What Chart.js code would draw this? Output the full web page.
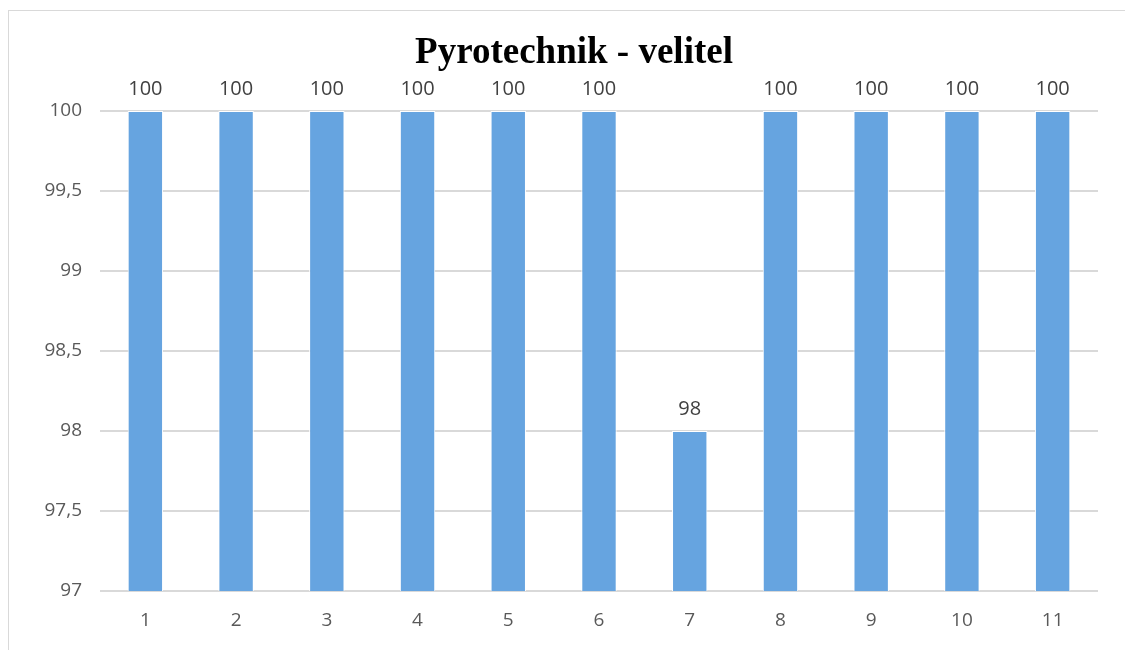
<!DOCTYPE html>
<html>
<head>
<meta charset="utf-8">
<script src="https://cdn.jsdelivr.net/npm/chart.js@4"></script>
<style>
  body { margin: 0; background: #fff; }
  .frame {
    position: absolute; left: 8px; top: 10px; width: 1125px; height: 650px;
    border: 1px solid #d9d9d9; box-sizing: border-box;
  }
  .wrap { position: absolute; left: 0; top: 0; width: 1125px; height: 650px; }
</style>
</head>
<body>
<div class="frame"></div>
<div class="wrap"><canvas id="pyroChart" width="1125" height="650"></canvas></div>
<script>
const categories = ["1", "2", "3", "4", "5", "6", "7", "8", "9", "10", "11"];
const values = [100, 100, 100, 100, 100, 100, 98, 100, 100, 100, 100];
const yMin = 97;
const yMax = 100;
const yStep = 0.5;
const titleText = "Pyrotechnik - velitel";

const fmt = (v) => String(v).replace(".", ",");

// labels above each bar + title (drawn here so it can sit off-centre like the original)
const barLabels = {
  id: "barLabels",
  afterDatasetsDraw(chart) {
    const ctx = chart.ctx;
    const meta = chart.getDatasetMeta(0);
    ctx.save();
    ctx.font = "20px 'Open Sans'";
    ctx.fillStyle = "#404040";
    ctx.textAlign = "center";
    ctx.textBaseline = "middle";
    meta.data.forEach((bar, i) => {
      ctx.fillText(fmt(values[i]), bar.x, bar.y - 22);
    });

    ctx.font = "bold 37px 'Liberation Serif'";
    ctx.fillStyle = "#000";
    ctx.fillText(titleText, 574, 53);
    ctx.restore();
  },
};

const ctx = document.getElementById("pyroChart");

const myChart = new Chart(ctx, {
  type: "bar",
  data: {
    labels: categories,
    datasets: [
      {
        data: values,
        backgroundColor: "#66a4e0",
        borderColor: "#ffffff",
        borderWidth: 1,
        barPercentage: 1,
        categoryPercentage: 0.39,
      },
    ],
  },
  options: {
    responsive: false,
    animation: false,
    layout: {
      padding: { left: 0, right: 27, top: 111, bottom: 0 },
    },
    plugins: {
      legend: { display: false },
      tooltip: { enabled: false },
      title: { display: false },
    },
    scales: {
      x: {
        grid: { display: false, drawTicks: false },
        border: { display: false },
        ticks: {
          color: "#595959",
          font: { family: "'Open Sans'", size: 19 },
          padding: 18,
        },
        afterFit(scale) {
          scale.height = 59;
        },
      },
      y: {
        min: yMin,
        max: yMax,
        grid: { color: "#d9d9d9", lineWidth: 2, drawTicks: false },
        border: { display: false },
        ticks: {
          stepSize: yStep,
          color: "#595959",
          font: { family: "'Open Sans'", size: 19 },
          padding: 18,
          callback: (v) => fmt(v),
        },
        afterFit(scale) {
          scale.width = 100;
        },
      },
    },
  },
  plugins: [barLabels],
});
</script>
</body>
</html>
